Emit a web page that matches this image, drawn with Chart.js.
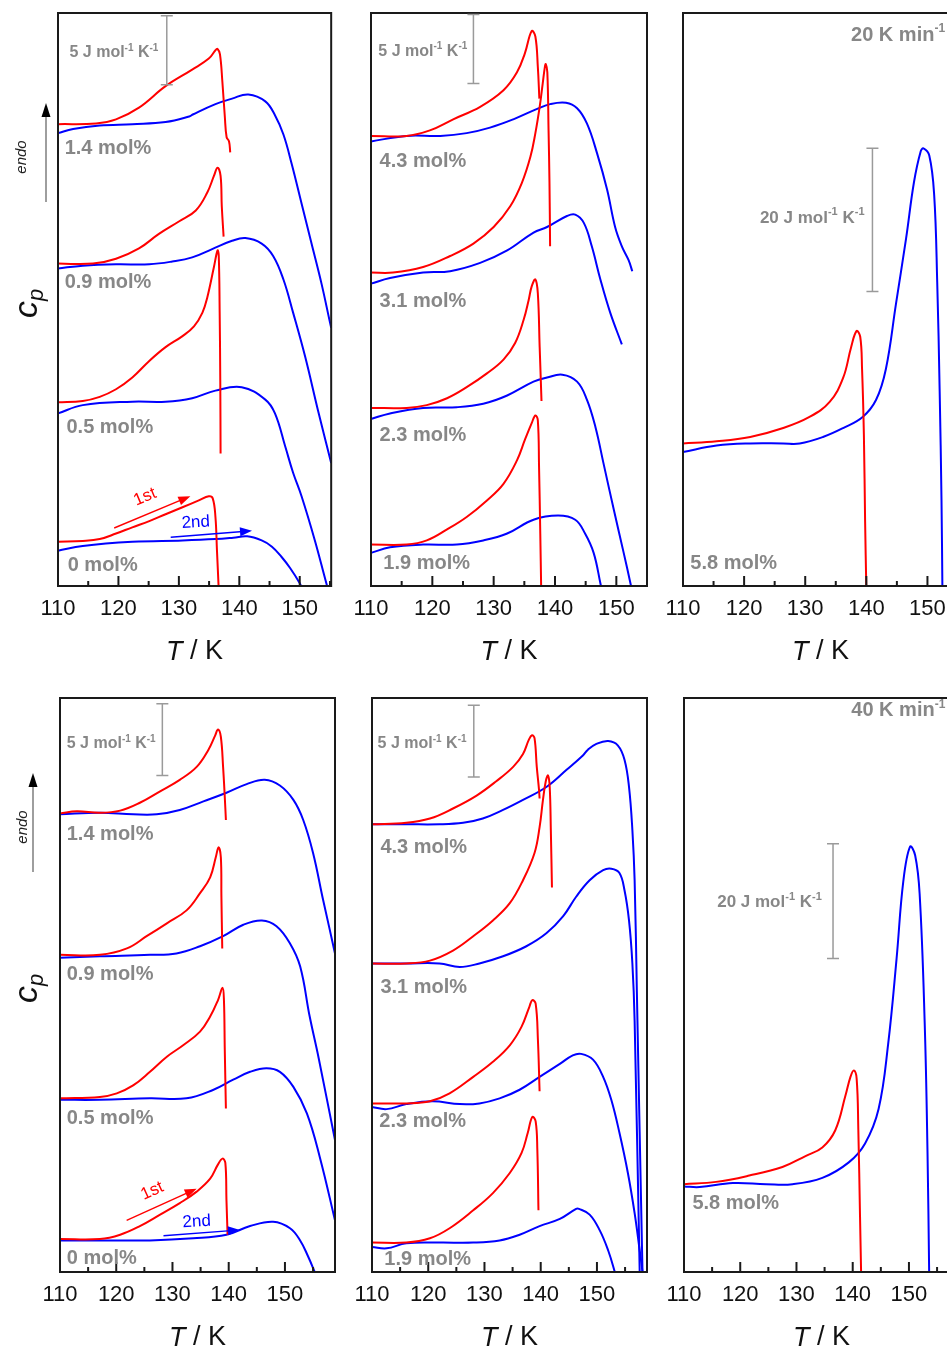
<!DOCTYPE html>
<html>
<head>
<meta charset="utf-8">
<script src="https://cdn.jsdelivr.net/npm/chart.js@4.4.1/dist/chart.umd.min.js"></script>
<style>
  html, body { margin: 0; padding: 0; background: #fff; }
  body { width: 947px; height: 1351px; position: relative; overflow: hidden; }
</style>
</head>
<body>
<script>
// --- data: [T / K, c_p offset / J mol-1 K-1] ---
// 20 K min-1, left panel
const r20_c14_1st = [[110,33.45],[116.3,33.5],[119.6,33.8],[123.4,34.65],[127.8,36.2],[132.2,37.4],[134.95,38.2],[136.05,38.8],[136.4,38.9],[136.8,38.5],[137.2,36.5],[137.6,34.0],[137.9,32.5],[138.3,32.2],[138.5,31.4]];
const r20_c14_2nd = [[110,32.8],[112.5,33.1],[116.9,33.35],[122.3,33.45],[127.8,33.6],[131.7,34.0],[132.3,34.15],[136.05,34.9],[138.8,35.3],[141.5,35.6],[144.3,35.1],[145.9,34.1],[147.3,32.7],[148.65,30.6],[150.3,27.7],[151.95,24.8],[153.6,21.9],[155.2,18.7],[156,17.3]];
const r20_c09_1st = [[110,23.35],[115.8,23.35],[119.6,23.7],[123.4,24.45],[126.7,25.5],[130.0,26.4],[132.8,27.2],[134.7,28.5],[135.8,29.7],[136.4,30.3],[136.9,29.7],[137.1,27.5],[137.4,25.3]];
const r20_c09_2nd = [[110,23.0],[114.1,23.2],[119.6,23.3],[125.1,23.3],[128.9,23.5],[132.2,23.8],[135.5,24.4],[138.8,25.0],[141.0,25.2],[143.7,24.8],[145.6,23.9],[147.3,22.2],[148.9,19.8],[150.9,16.6],[153.0,12.75],[155.2,8.9],[156,7.5]];
const r20_c05_1st = [[110,13.3],[114.1,13.4],[116.9,13.7],[119.6,14.25],[122.3,15.1],[125.1,16.3],[127.8,17.3],[130.6,18.1],[132.5,18.8],[133.9,19.8],[134.7,20.9],[135.8,23.1],[136.4,24.3],[136.6,23.9],[136.75,19.8],[136.85,14.9],[136.9,9.6]];
const r20_c05_2nd = [[110,12.5],[114.1,13.1],[122.3,13.35],[127.8,13.35],[132.2,13.6],[136.05,14.15],[140.4,14.4],[144.3,13.5],[145.9,12.5],[147.6,10.1],[148.9,8.2],[150.3,6.5],[152.5,3.3],[154.4,0.2],[155,-0.7]];
const r20_c00_1st = [[110,3.2],[114.1,3.26],[116.9,3.4],[119.6,3.8],[122.3,4.25],[125.1,4.7],[127.8,5.2],[130.6,5.7],[133.3,6.2],[134.95,6.5],[135.6,6.35],[136.05,5.0],[136.3,2.6],[136.6,-0.3]];
const r20_c00_2nd = [[110,2.55],[114.1,2.9],[122.3,3.2],[130.6,3.3],[136.05,3.4],[139,3.5],[141.3,3.6],[143.7,3.3],[145.4,2.85],[147.0,2.1],[148.4,1.3],[150.0,0.2],[150.5,-0.3]];
// 20 K min-1, middle panel
const r20_c43_1st = [[110,32.6],[115.8,32.6],[119.6,33.0],[123.4,33.8],[127.8,34.7],[131.6,35.9],[133.8,37.2],[135.1,38.6],[136.2,40.2],[136.8,39.8],[137.2,37.6],[137.45,35.3]];
const r20_c43_2nd = [[110,32.2],[115.8,32.6],[121.3,32.6],[125.6,32.8],[129.4,33.2],[133.2,33.8],[136.8,34.5],[139.2,34.9],[141.8,35.0],[143.6,34.6],[145.2,33.5],[146.85,31.35],[148.5,28.7],[149.8,26.0],[150.9,24.6],[152.0,23.6],[152.6,22.8]];
const r20_c31_1st = [[110,22.7],[113.6,22.7],[118.5,23.1],[122.9,23.9],[126.7,24.8],[130.0,26.0],[132.7,27.5],[134.6,29.2],[136.0,31.1],[136.8,32.8],[137.5,34.7],[138.0,36.4],[138.35,37.6],[138.5,37.8],[138.75,37.2],[138.95,33],[139.1,29.2],[139.2,24.6]];
const r20_c31_2nd = [[110,21.9],[113.1,22.3],[118.5,22.7],[122.9,22.8],[127.8,23.4],[132.2,24.3],[136.5,25.6],[138.7,26.0],[141.95,26.8],[143.3,26.9],[144.7,26.3],[146.0,24.6],[147.4,22.2],[149.0,19.8],[150.9,17.5]];
const r20_c23_1st = [[110,12.9],[115.8,12.9],[119.1,13.1],[122.4,13.6],[125.6,14.4],[128.9,15.4],[131.6,16.4],[133.5,17.6],[134.9,19.3],[135.7,20.7],[136.2,21.7],[136.8,22.2],[137.2,21.2],[137.5,17.3],[137.8,13.4]];
const r20_c23_2nd = [[110,12.1],[113.1,12.5],[118.5,12.9],[124.0,12.95],[128.3,13.2],[132.2,13.8],[136.5,14.8],[138.7,15.1],[141.2,15.3],[143.6,14.8],[145.2,13.5],[146.6,11.5],[147.9,8.9],[149.6,5.5],[151.2,2.4],[152.3,0.2],[152.6,-0.5]];
const r20_c19_1st = [[110,3.0],[115.8,3.0],[119.1,3.3],[122.4,4.1],[125.6,5.0],[128.9,6.2],[131.6,7.4],[133.8,9.1],[135.1,10.6],[136.2,11.8],[136.8,12.35],[137.2,12.0],[137.4,8.6],[137.6,3.8],[137.75,-0.3]];
const r20_c19_2nd = [[110,2.4],[113.1,2.8],[118.5,3.0],[124.0,3.0],[128.3,3.3],[132.2,3.8],[136.5,4.8],[140.5,5.1],[143.3,4.8],[144.9,3.8],[146.3,2.4],[147.4,0.2],[147.6,-0.3]];
// 20 K min-1, right panel
const r20_c58_1st = [[110,19.9],[115.5,20.2],[121.0,20.8],[126.4,22.05],[130.7,23.6],[134.0,25.7],[136.2,29.05],[137.5,33.3],[138.4,35.6],[139.0,34.8],[139.3,30.3],[139.6,21.1],[139.8,9.0],[140.0,-0.5]];
const r20_c58_2nd = [[110,18.7],[115.5,19.6],[121.0,19.9],[126.4,19.9],[129.1,19.9],[132.9,20.8],[136.2,22.05],[139.4,23.6],[141.6,26.0],[143.2,30.3],[144.85,39.4],[146.5,48.5],[147.8,56.4],[148.9,60.7],[149.35,61.1],[150.3,60.1],[151.1,54.6],[151.6,42.4],[152.0,27.2],[152.3,12.0],[152.45,-0.5]];

// 40 K min-1, left panel
const r40_c14_1st = [[110,31.96],[113.0,32.1],[117.1,32.0],[120.7,32.15],[124.2,32.7],[127.8,33.5],[131.3,34.3],[134.3,35.2],[136.4,36.4],[137.6,37.4],[138.1,37.8],[138.6,37.3],[139.0,35.2],[139.3,33.1],[139.5,31.5]];
const r40_c14_2nd = [[110,31.9],[117.1,32.0],[123.0,31.9],[127.2,31.9],[131.3,32.2],[135.5,32.8],[139.6,33.4],[143.2,34.0],[146.4,34.3],[149.1,33.9],[151.5,32.9],[153.25,31.5],[155.0,29.2],[156.8,25.9],[158.9,22.2],[159.6,20.8]];
const r40_c09_1st = [[110,22.1],[117.1,22.1],[121.9,22.55],[125.4,23.4],[129.0,24.3],[132.5,25.2],[134.9,26.4],[136.7,27.5],[137.7,28.9],[138.2,29.6],[138.6,28.9],[138.7,26.2],[138.85,22.55]];
const r40_c09_2nd = [[110,21.9],[117.1,22.0],[126.0,22.1],[130.7,22.2],[134.9,22.7],[139.0,23.4],[142.6,24.2],[145.9,24.5],[148.5,24.1],[150.9,22.9],[152.7,21.3],[154.4,17.8],[156.0,14.9],[158.9,9.2],[159.6,7.9]];
const r40_c05_1st = [[110,12.1],[117.1,12.2],[120.1,12.45],[123.0,13.0],[126.0,13.95],[129.0,15.0],[131.9,15.8],[134.9,16.75],[136.7,17.8],[138.1,18.95],[138.9,19.8],[139.15,18.95],[139.3,15.5],[139.5,11.4]];
const r40_c05_2nd = [[110,12.0],[117.1,12.0],[126.0,12.1],[132.5,12.1],[137.3,12.7],[140.8,13.4],[143.8,13.95],[146.7,14.2],[149.1,13.95],[151.5,12.9],[153.9,11.05],[156.2,8.0],[158.9,3.6],[159.6,2.4]];
const r40_c00_1st = [[110,2.3],[117.1,2.3],[120.7,2.6],[124.2,3.2],[127.8,4.0],[131.3,4.8],[134.3,5.6],[136.7,6.5],[138.1,7.5],[138.9,7.9],[139.4,7.6],[139.6,5.0],[139.8,2.6]];
const r40_c00_2nd = [[110,2.2],[117.1,2.2],[126.0,2.2],[133.7,2.35],[139.6,2.6],[143.8,3.2],[147.9,3.5],[150.9,3.05],[152.7,2.2],[154.1,1.1],[155.3,0],[155.6,-0.3]];
// 40 K min-1, middle panel
const r40_c43_1st = [[110,31.2],[116.1,31.3],[120.3,31.6],[124.4,32.3],[128.6,33.2],[132.1,34.2],[135.1,35.2],[136.85,36.1],[137.9,37.1],[138.45,37.4],[138.9,37.2],[139.3,35.2],[139.7,33.6],[139.8,33.0]];
const r40_c43_2nd = [[110,31.2],[116.1,31.2],[122.0,31.2],[126.2,31.3],[129.7,31.6],[133.3,32.2],[136.85,32.9],[141.0,33.8],[144.6,35.0],[147.5,36.0],[148.4,36.4],[149.9,36.8],[152.0,37.0],[153.7,36.7],[154.9,35.7],[155.7,33.8],[156.3,30.8],[156.7,27.3],[157.1,19.5],[158.1,0],[158.2,-1]];
const r40_c31_1st = [[110,21.5],[116.1,21.5],[120.3,21.7],[124.4,22.4],[128.0,23.4],[131.5,24.5],[134.5,25.7],[136.85,27.3],[138.9,29.2],[139.8,31.0],[140.4,32.9],[140.9,34.2],[141.3,34.6],[141.6,33.8],[141.8,30.8],[142.0,26.8]];
const r40_c31_2nd = [[110,21.5],[116.1,21.5],[122.0,21.5],[125.6,21.25],[129.1,21.5],[133.3,22.0],[137.45,22.7],[141.0,23.6],[144.0,24.8],[146.3,26.15],[148.7,27.3],[151.1,28.0],[152.55,28.1],[154.0,27.8],[154.9,26.6],[155.7,24.5],[156.3,21.5],[156.7,17.5],[157.6,0],[157.7,-1]];
const r40_c23_1st = [[110,11.75],[116.1,11.75],[120.3,11.9],[123.8,12.45],[128.0,13.6],[131.5,14.65],[134.5,15.8],[136.6,17.1],[138.0,18.5],[138.5,18.95],[139.1,18.7],[139.5,16.2],[139.8,12.6]];
const r40_c23_2nd = [[110,11.5],[112.6,11.35],[116.1,11.7],[120.8,11.9],[125.6,11.7],[129.1,11.75],[132.7,12.1],[136.25,12.7],[139.8,13.6],[143.4,14.5],[145.7,15.1],[147.2,15.2],[149.3,14.8],[151.1,13.6],[152.55,12.0],[154.0,9.7],[155.5,6.9],[156.7,4.1],[157.6,1.5],[158.1,0],[158.2,-0.5]];
const r40_c19_1st = [[110,2.05],[116.1,2.05],[120.3,2.35],[123.8,3.05],[128.0,4.3],[131.5,5.5],[134.5,6.9],[136.6,8.3],[137.7,9.7],[138.5,10.8],[139.1,10.5],[139.4,8.5],[139.6,4.3]];
const r40_c19_2nd = [[110,1.75],[112.6,1.65],[116.1,2.0],[122.0,2.05],[128.0,2.05],[132.7,2.2],[136.25,2.6],[139.8,3.2],[143.4,3.7],[146.3,4.4],[146.8,4.4],[148.7,4.0],[150.5,2.9],[152.0,1.5],[153.1,0.1],[153.3,-0.3]];
// 40 K min-1, right panel
const r40_c58_1st = [[110,15.3],[115.7,15.7],[121.6,16.8],[127.5,18.3],[131.6,20.2],[134.6,21.7],[136.9,24.7],[138.7,30.7],[139.6,34.0],[140.2,35.1],[140.7,33.7],[141.0,24.7],[141.3,9.7],[141.5,-0.5]];
const r40_c58_2nd = [[110,14.9],[112.8,14.8],[118.7,15.5],[124.6,15.3],[129.3,15.3],[134.6,16.4],[139.3,19.1],[142.2,22.4],[144.6,28.4],[146.3,39.7],[147.8,54.6],[149.0,68.1],[150.2,74.1],[151.1,72.6],[151.9,65.9],[152.8,43.4],[153.3,20.9],[153.6,-0.5]];

// text content
const compsLeft = ['1.4 mol%', '0.9 mol%', '0.5 mol%', '0 mol%'];
const compsMid = ['4.3 mol%', '3.1 mol%', '2.3 mol%', '1.9 mol%'];
const compsRight = ['5.8 mol%'];
const heatingRates = [20, 40];          // K min-1
const scaleBars = [5, 5, 20];           // J mol-1 K-1 per panel column
const runNames = ['1st', '2nd'];
const tickStep = 5, tickLabelEvery = 10;

const RED = '#ff0000', BLUE = '#0000ff', GREY = '#878787';
const FONT = '"Liberation Sans", Arial, sans-serif';

const panels = [
  { left: 0, top: 0, w: 340, h: 690, pad: [58, 7, 13], axisH: 104, xMax: 155.2, yMax: 41.5,
    curves: [r20_c14_1st, r20_c14_2nd, r20_c09_1st, r20_c09_2nd, r20_c05_1st, r20_c05_2nd, r20_c00_1st, r20_c00_2nd],
    comps: compsLeft, compPos: [[111.1, 31.7], [111.1, 22.0], [111.4, 11.5], [111.6, 1.45]],
    bar: { v: scaleBars[0], x: 128.0, y0: 36.3, lx: 111.9, ly: 38.7, align: 'left', size: 16 },
    runs: { a1: [119.3, 4.2], a2: [131.9, 6.5], t1: [124.4, 6.45], b1: [128.65, 3.53], b2: [142.1, 4.0], t2: [132.8, 4.6] },
    endo: { x: 46, tip: 90, tail: 189, tx: 22, ty: 144 } },
  { left: 340, top: 0, w: 320, h: 690, pad: [31, 13, 13], axisH: 104, xMax: 155.0, yMax: 41.5,
    curves: [r20_c43_1st, r20_c43_2nd, r20_c31_1st, r20_c31_2nd, r20_c23_1st, r20_c23_2nd, r20_c19_1st, r20_c19_2nd],
    comps: compsMid, compPos: [[111.4, 30.75], [111.4, 20.6], [111.4, 10.9], [112.0, 1.65]],
    bar: { v: scaleBars[1], x: 126.7, y0: 36.4, lx: 111.2, ly: 38.8, align: 'left', size: 16 } },
  { left: 650, top: 0, w: 320, h: 690, pad: [33, 12, 13], axisH: 104, xMax: 155.0, yMax: 80,
    curves: [r20_c58_1st, r20_c58_2nd],
    comps: compsRight, compPos: [[111.2, 3.1]],
    bar: { v: scaleBars[2], x: 141.0, y0: 41.1, lx: 139.7, ly: 51.6, align: 'right', size: 17 },
    rate: { v: heatingRates[0], x: 137.5, y: 77.1 } },
  { left: 0, top: 685, w: 340, h: 666, pad: [60, 5, 13], axisH: 79, xMax: 158.9, yMax: 40,
    curves: [r40_c14_1st, r40_c14_2nd, r40_c09_1st, r40_c09_2nd, r40_c05_1st, r40_c05_2nd, r40_c00_1st, r40_c00_2nd],
    comps: compsLeft, compPos: [[111.2, 30.5], [111.2, 20.75], [111.2, 10.7], [111.2, 0.95]],
    bar: { v: scaleBars[0], x: 128.2, y0: 34.6, lx: 111.2, ly: 36.9, align: 'left', size: 16 },
    runs: { a1: [121.85, 3.6], a2: [134.3, 5.8], t1: [126.4, 5.64], b1: [128.4, 2.53], b2: [142.0, 2.93], t2: [134.3, 3.5] },
    endo: { x: 33, tip: 75, tail: 174, tx: 23, ty: 129 } },
  { left: 340, top: 685, w: 320, h: 666, pad: [32, 13, 13], axisH: 79, xMax: 158.9, yMax: 40,
    curves: [r40_c43_1st, r40_c43_2nd, r40_c31_1st, r40_c31_2nd, r40_c23_1st, r40_c23_2nd, r40_c19_1st, r40_c19_2nd],
    comps: compsMid, compPos: [[111.5, 29.6], [111.5, 19.8], [111.3, 10.5], [112.2, 0.9]],
    bar: { v: scaleBars[1], x: 128.1, y0: 34.5, lx: 111.0, ly: 36.9, align: 'left', size: 16 } },
  { left: 650, top: 685, w: 320, h: 666, pad: [34, 11, 13], axisH: 79, xMax: 158.9, yMax: 100,
    curves: [r40_c58_1st, r40_c58_2nd],
    comps: compsRight, compPos: [[111.5, 11.9]],
    bar: { v: scaleBars[2], x: 136.5, y0: 54.6, lx: 134.5, ly: 64.7, align: 'right', size: 17 },
    rate: { v: heatingRates[1], x: 139.75, y: 98.1 } }
];

// text with "-1" superscripts
function supText(ctx, parts, x, y, size, align) {
  const small = Math.round(size * 0.62);
  let total = 0;
  parts.forEach(([t, sup]) => {
    ctx.font = `bold ${sup ? small : size}px ${FONT}`;
    total += ctx.measureText(t).width;
  });
  let cx = align === 'right' ? x - total : x;
  ctx.textAlign = 'left';
  ctx.textBaseline = 'alphabetic';
  parts.forEach(([t, sup]) => {
    ctx.font = `bold ${sup ? small : size}px ${FONT}`;
    ctx.fillText(t, cx, sup ? y - size * 0.42 : y);
    cx += ctx.measureText(t).width;
  });
}

function arrow(ctx, x1, y1, x2, y2, color) {
  const a = Math.atan2(y2 - y1, x2 - x1);
  ctx.strokeStyle = color; ctx.fillStyle = color; ctx.lineWidth = 1.4;
  ctx.beginPath(); ctx.moveTo(x1, y1);
  ctx.lineTo(x2 - 9 * Math.cos(a), y2 - 9 * Math.sin(a)); ctx.stroke();
  ctx.beginPath();
  ctx.moveTo(x2, y2);
  ctx.lineTo(x2 - 12 * Math.cos(a) + 4.5 * Math.sin(a), y2 - 12 * Math.sin(a) - 4.5 * Math.cos(a));
  ctx.lineTo(x2 - 12 * Math.cos(a) - 4.5 * Math.sin(a), y2 - 12 * Math.sin(a) + 4.5 * Math.cos(a));
  ctx.closePath(); ctx.fill();
}

// frame, inward ticks, labels and annotations
const decor = {
  id: 'decor',
  afterDatasetsDraw(chart) {
    const p = chart.options.plugins.decor;
    const ctx = chart.ctx, a = chart.chartArea;
    const X = v => chart.scales.x.getPixelForValue(v);
    const Y = v => chart.scales.y.getPixelForValue(v);
    ctx.save();

    // frame + ticks
    ctx.strokeStyle = '#1a1a1a'; ctx.lineWidth = 2;
    ctx.strokeRect(a.left, a.top, a.right - a.left, a.bottom - a.top);
    chart.scales.x.ticks.forEach(t => {
      const x = X(t.value), len = t.value % tickLabelEvery === 0 ? 10 : 5;
      ctx.beginPath(); ctx.moveTo(x, a.bottom); ctx.lineTo(x, a.bottom - len); ctx.stroke();
    });

    // composition labels
    ctx.fillStyle = GREY;
    ctx.font = `bold 20px ${FONT}`;
    ctx.textAlign = 'left'; ctx.textBaseline = 'middle';
    p.comps.forEach((s, i) => ctx.fillText(s, X(p.compPos[i][0]), Y(p.compPos[i][1])));

    // scale bar
    const b = p.bar;
    const bx = X(b.x), by0 = Y(b.y0), by1 = Y(b.y0 + b.v);
    ctx.strokeStyle = '#9a9a9a'; ctx.lineWidth = 1.5;
    ctx.beginPath();
    ctx.moveTo(bx, by0); ctx.lineTo(bx, by1);
    ctx.moveTo(bx - 6, by0); ctx.lineTo(bx + 6, by0);
    ctx.moveTo(bx - 6, by1); ctx.lineTo(bx + 6, by1);
    ctx.stroke();
    ctx.fillStyle = GREY;
    supText(ctx, [[b.v + ' J mol', false], ['-1', true], [' K', false], ['-1', true]],
      X(b.lx), Y(b.ly) + b.size * 0.36, b.size, b.align);

    // heating rate
    if (p.rate) {
      supText(ctx, [[p.rate.v + ' K min', false], ['-1', true]], X(p.rate.x), Y(p.rate.y) + 7, 20, 'left');
    }

    // 1st / 2nd run arrows
    if (p.runs) {
      const r = p.runs;
      const x1 = X(r.a1[0]), y1 = Y(r.a1[1]), x2 = X(r.a2[0]), y2 = Y(r.a2[1]);
      arrow(ctx, x1, y1, x2, y2, RED);
      ctx.save();
      ctx.translate(X(r.t1[0]), Y(r.t1[1]));
      ctx.rotate(Math.atan2(y2 - y1, x2 - x1));
      ctx.fillStyle = RED; ctx.font = `17px ${FONT}`;
      ctx.textAlign = 'center'; ctx.textBaseline = 'middle';
      ctx.fillText(runNames[0], 0, 0);
      ctx.restore();
      arrow(ctx, X(r.b1[0]), Y(r.b1[1]), X(r.b2[0]), Y(r.b2[1]), BLUE);
      ctx.save();
      ctx.translate(X(r.t2[0]), Y(r.t2[1]));
      ctx.rotate(-0.06);
      ctx.fillStyle = BLUE; ctx.font = `17px ${FONT}`;
      ctx.textAlign = 'center'; ctx.textBaseline = 'middle';
      ctx.fillText(runNames[1], 0, 0);
      ctx.restore();
    }
    ctx.restore();
  },
  afterDraw(chart) {
    const p = chart.options.plugins.decor;
    const ctx = chart.ctx, a = chart.chartArea;
    ctx.save();
    // x title: T / K
    ctx.fillStyle = '#111'; ctx.textBaseline = 'middle'; ctx.textAlign = 'left';
    ctx.font = `italic 27px ${FONT}`;
    const wT = ctx.measureText('T').width;
    ctx.font = `27px ${FONT}`;
    const wR = ctx.measureText(' / K').width;
    const cx = (a.left + a.right) / 2 - (wT + wR) / 2, cy = a.bottom + 66;
    ctx.font = `italic 27px ${FONT}`; ctx.fillText('T', cx, cy);
    ctx.font = `27px ${FONT}`; ctx.fillText(' / K', cx + wT, cy);

    // y title c_p and endo arrow (left panels only)
    if (p.endo) {
      const e = p.endo;
      ctx.save();
      ctx.translate(37, a.top + 305);
      ctx.rotate(-Math.PI / 2);
      ctx.textBaseline = 'alphabetic';
      ctx.font = `italic 34px ${FONT}`;
      const wc = ctx.measureText('c').width;
      ctx.fillText('c', 0, 0);
      ctx.font = `italic 22px ${FONT}`;
      ctx.fillText('p', wc, 6);
      ctx.restore();

      ctx.strokeStyle = '#6a6a6a'; ctx.lineWidth = 1.3;
      ctx.beginPath(); ctx.moveTo(e.x, a.top + e.tail); ctx.lineTo(e.x, a.top + e.tip + 10); ctx.stroke();
      ctx.fillStyle = '#000';
      ctx.beginPath();
      ctx.moveTo(e.x, a.top + e.tip);
      ctx.lineTo(e.x - 4.5, a.top + e.tip + 14);
      ctx.lineTo(e.x + 4.5, a.top + e.tip + 14);
      ctx.closePath(); ctx.fill();

      ctx.save();
      ctx.translate(e.tx, a.top + e.ty);
      ctx.rotate(-Math.PI / 2);
      ctx.fillStyle = '#222'; ctx.font = `italic 15px ${FONT}`;
      ctx.textAlign = 'center'; ctx.textBaseline = 'middle';
      ctx.fillText('endo', 0, 0);
      ctx.restore();
    }
    ctx.restore();
  }
};

panels.forEach(p => {
  const canvas = document.createElement('canvas');
  canvas.width = p.w; canvas.height = p.h;
  canvas.style.cssText = `position:absolute;left:${p.left}px;top:${p.top}px;width:${p.w}px;height:${p.h}px`;
  document.body.appendChild(canvas);

  const datasets = p.curves.map((c, i) => ({
    data: c.map(pt => ({ x: pt[0], y: pt[1] })),
    borderColor: i % 2 === 0 ? RED : BLUE,
    borderWidth: 2,
    showLine: true,
    pointRadius: 0,
    tension: 0.4,
    clip: 1
  }));
  // red (1st run) is drawn over blue
  datasets.forEach((d, i) => { d.order = i % 2 === 0 ? 0 : 1; });

  new Chart(canvas, {
    type: 'scatter',
    data: { datasets },
    options: {
      responsive: false,
      animation: false,
      events: [],
      layout: { padding: { left: p.pad[0], right: p.pad[1], top: p.pad[2], bottom: 0 } },
      plugins: { legend: { display: false }, tooltip: { enabled: false }, decor: p },
      scales: {
        x: {
          type: 'linear', min: 110, max: p.xMax,
          grid: { display: false, drawTicks: false },
          border: { display: false },
          ticks: {
            stepSize: tickStep, includeBounds: false, autoSkip: false, maxRotation: 0,
            padding: 10, color: '#111', font: { family: FONT, size: 22 },
            callback: v => (v % tickLabelEvery === 0 ? String(v) : '')
          },
          afterFit: s => { s.height = p.axisH; }
        },
        y: { type: 'linear', display: false, min: 0, max: p.yMax }
      }
    },
    plugins: [decor]
  });
});
</script>
</body>
</html>
